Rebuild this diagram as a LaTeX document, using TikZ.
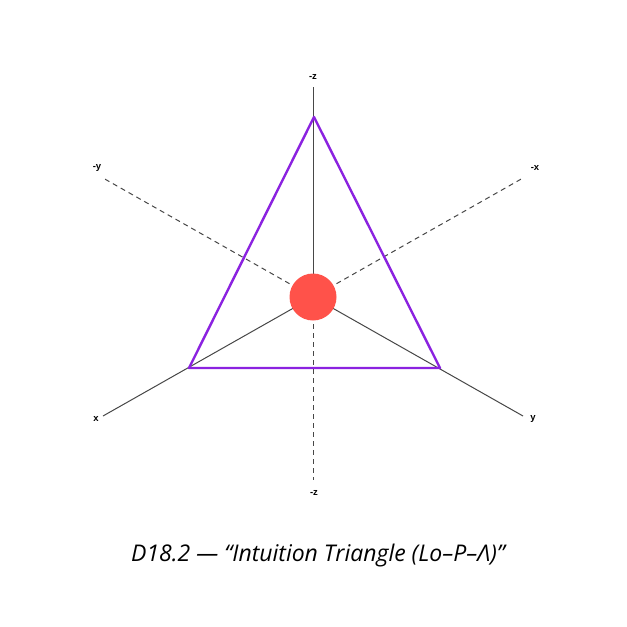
\documentclass[tikz,border=0pt]{standalone}
\usepackage{fontspec}
\setmainfont{Open Sans}
\newfontfamily\lblfont{Liberation Sans}
\begin{document}
\begin{tikzpicture}[x=1pt,y=-1pt,
  axis/.style={draw=black!72,line width=1pt},
  daxis/.style={axis,dash pattern=on 5pt off 4pt},
  lbl/.style={font=\lblfont\bfseries\fontsize{9.5}{10}\selectfont,text=black,inner sep=0pt}]
\definecolor{tricol}{HTML}{8B22E0}
\definecolor{dotcol}{HTML}{FF524A}
\useasboundingbox[fill=white] (0,0) rectangle (627,627);
\coordinate (o) at (313,297);
\coordinate (pz) at (313,87);
\coordinate (px) at (103,416);
\coordinate (py) at (523,416);
\coordinate (my) at (103,178);
\coordinate (mx) at (523,178);
\coordinate (mz) at (313,480);
\draw[axis] (o) -- (pz);
\draw[axis] (o) -- (px);
\draw[axis] (o) -- (py);
\draw[daxis] (o) -- (my);
\draw[daxis] (o) -- (mx);
\draw[daxis] (o) -- (mz);
\node[lbl] (lz) at (313,77) {-z};
\node[lbl] (lmy) at (97,168) {-y};
\node[lbl] (lmx) at (535,168) {-x};
\node[lbl] (lx) at (96,419) {x};
\node[lbl] (ly) at (533,419) {y};
\node[lbl] (lmz) at (314,493) {-z};
\coordinate (t1) at (314,117);
\coordinate (t2) at (189,368);
\coordinate (t3) at (440,368);
\draw[line width=2.4pt,draw=tricol,line join=round] (t1) -- (t2) -- (t3) -- cycle;
\node[circle,fill=dotcol,minimum size=47pt,inner sep=0pt] (dot) at (o) {};
\node[font=\itshape\fontsize{23}{27}\selectfont,inner sep=0pt] (cap) at (318,556) {D18.2 — “Intuition Triangle (Lo–P–Λ)”};
\end{tikzpicture}
\end{document}
